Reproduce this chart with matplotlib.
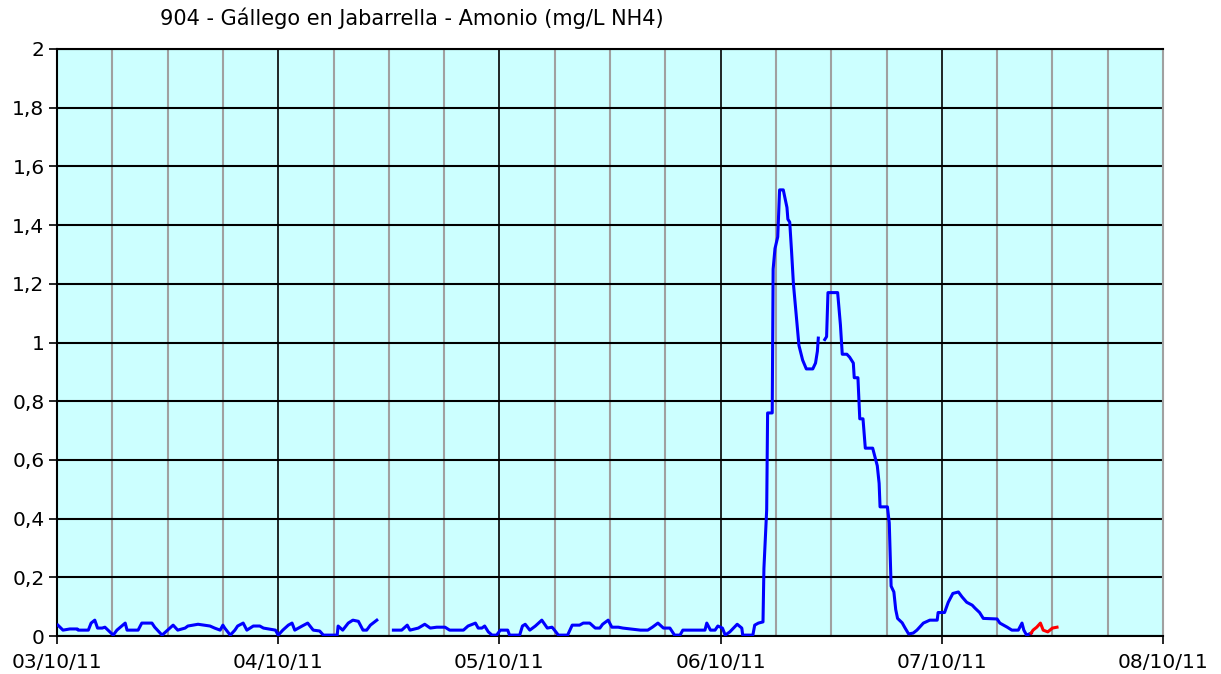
import numpy as np
import matplotlib
matplotlib.use("Agg")
import matplotlib.pyplot as plt
from matplotlib.ticker import MultipleLocator

# Horas desde el 03/10/11 00:00 y concentración de amonio (mg/L NH4)
horas = [
    0.1, 0.65, 1.4, 2.2, 2.3, 3.4, 3.7, 4.1, 4.4, 4.9, 5.2, 6.1, 6.5, 7.4, 7.6, 8.8,
    9.2, 10.3, 10.6, 11.4, 12.0, 12.6, 13.1, 13.9, 14.2, 15.3, 16.6, 17.1, 17.7, 18.0,
    18.2, 18.8, 19.3, 19.6, 20.2, 20.6, 21.3, 22.0, 22.4, 23.7, 24.0, 24.5, 25.1, 25.5,
    25.8, 26.6, 27.2, 27.8, 28.5, 28.9, 30.4, 30.5, 31.0, 31.6, 32.1, 32.7, 33.2, 33.6,
    34.0, 34.7,
    35.5,
    36.5, 37.4, 38.0, 38.3, 39.2, 39.9, 40.5, 41.2, 42.1, 42.6, 44.1, 44.6, 45.4, 45.7,
    46.1, 46.4, 46.8, 47.2, 47.7, 48.1, 48.9, 49.1, 50.2, 50.5, 50.8, 51.3, 51.9, 52.6,
    53.2, 53.7, 53.8, 54.4, 55.4, 55.9, 56.7, 57.1, 57.8, 58.4, 58.9, 59.2, 59.8, 60.2,
    60.9, 61.4, 62.2, 63.3, 64.1, 64.6, 65.2, 65.8, 66.5, 67.0, 67.6, 67.9, 69.4, 70.3,
    70.5, 70.9, 71.4, 71.7, 72.2, 72.5, 73.0, 73.8, 74.3, 74.4, 75.5, 75.7, 76.1, 76.6,
    76.7, 77.0, 77.1, 77.6, 77.65, 77.7, 77.9, 78.2, 78.4, 78.8, 79.0, 79.2, 79.3, 79.5,
    79.7, 79.9, 80.1, 80.3, 80.5, 80.9, 81.3, 82.0, 82.3, 82.5, 82.6,
    83.0,
    83.3, 83.5, 83.65, 84.7, 85.0, 85.2, 85.7, 86.0, 86.4, 86.5, 86.9, 87.1, 87.45, 87.7,
    88.5, 89.0, 89.2, 89.3, 90.1, 90.3, 90.5, 90.8, 91.0, 91.2, 91.7, 92.0, 92.4, 92.9,
    93.3, 94.0, 94.7, 95.5, 95.6, 96.3, 96.7, 97.2, 97.8, 98.2, 98.7, 99.3, 99.6, 100.1,
    100.5, 102.0, 102.3, 103.1, 103.6, 104.3, 104.7, 104.9, 105.2, 105.7,
]
amonio = [
    0.037, 0.02, 0.024, 0.024, 0.02, 0.02, 0.044, 0.054, 0.027, 0.027, 0.03, 0.003, 0.02, 0.044, 0.02, 0.02,
    0.044, 0.044, 0.03, 0.003, 0.02, 0.037, 0.02, 0.027, 0.034, 0.04, 0.034, 0.027, 0.02, 0.037,
    0.027, 0.003, 0.02, 0.034, 0.044, 0.02, 0.034, 0.034, 0.027, 0.02, 0.003, 0.02, 0.037, 0.044,
    0.02, 0.034, 0.044, 0.02, 0.017, 0.003, 0.003, 0.034, 0.02, 0.044, 0.054, 0.05, 0.02, 0.02,
    0.037, 0.054,
    np.nan,
    0.02, 0.02, 0.037, 0.02, 0.027, 0.04, 0.027, 0.03, 0.03, 0.02, 0.02, 0.034, 0.044, 0.027,
    0.027, 0.034, 0.014, 0.003, 0.003, 0.02, 0.02, 0.003, 0.003, 0.034, 0.04, 0.02, 0.034, 0.054,
    0.027, 0.03, 0.027, 0.003, 0.003, 0.037, 0.037, 0.044, 0.044, 0.027, 0.027, 0.04, 0.054, 0.03,
    0.03, 0.027, 0.024, 0.02, 0.02, 0.03, 0.044, 0.027, 0.027, 0.003, 0.003, 0.02, 0.02, 0.02,
    0.044, 0.02, 0.02, 0.034, 0.027, 0.003, 0.014, 0.04, 0.027, 0.003, 0.003, 0.037, 0.044, 0.048,
    0.23, 0.43, 0.76, 0.76, 1.0, 1.25, 1.32, 1.36, 1.52, 1.52, 1.49, 1.46, 1.42, 1.41,
    1.31, 1.2, 1.13, 1.06, 0.99, 0.94, 0.91, 0.91, 0.93, 0.97, 1.015,
    np.nan,
    1.01, 1.02, 1.17, 1.17, 1.06, 0.96, 0.96, 0.95, 0.93, 0.88, 0.88, 0.74, 0.74, 0.64,
    0.64, 0.58, 0.52, 0.44, 0.44, 0.385, 0.17, 0.15, 0.09, 0.06, 0.045, 0.028, 0.007, 0.01,
    0.02, 0.044, 0.054, 0.054, 0.08, 0.08, 0.115, 0.145, 0.15, 0.133, 0.115, 0.105, 0.095, 0.08,
    0.06, 0.058, 0.044, 0.03, 0.02, 0.02, 0.044, 0.02, 0.003, 0.01,
]

# Datos provisionales (tramo en rojo)
horas_prov = [105.7, 105.9, 106.3, 106.7, 107.0, 107.5, 108.0, 108.5]
amonio_prov = [0.01, 0.02, 0.03, 0.044, 0.02, 0.014, 0.027, 0.03]

fechas = ["03/10/11", "04/10/11", "05/10/11", "06/10/11", "07/10/11", "08/10/11"]
valores_y = [0, 0.2, 0.4, 0.6, 0.8, 1, 1.2, 1.4, 1.6, 1.8, 2]
etiquetas_y = ["0", "0,2", "0,4", "0,6", "0,8", "1", "1,2", "1,4", "1,6", "1,8", "2"]

fig = plt.figure(figsize=(12.21, 6.74), dpi=100)
ax = fig.add_axes([57 / 1221, 1 - 636 / 674, 1106 / 1221, 587 / 674])
ax.set_facecolor("#CCFFFF")

ax.plot(horas, amonio, color="#0000FF", linewidth=2.2, zorder=3)
ax.plot(horas_prov, amonio_prov, color="#FF0000", linewidth=2.2, zorder=3)

ax.set_xlim(0, 120)
ax.set_ylim(0, 2)
ax.set_xticks(np.arange(0, 121, 24))
ax.set_xticklabels(fechas)
ax.xaxis.set_minor_locator(MultipleLocator(6))
ax.set_yticks(valores_y)
ax.set_yticklabels(etiquetas_y)

ax.set_axisbelow(True)
ax.grid(which="minor", axis="x", color="#A0A0A0", linewidth=1.5)
ax.grid(which="major", axis="x", color="black", linewidth=1.2)
ax.grid(which="major", axis="y", color="black", linewidth=1.5)

ax.tick_params(axis="both", which="major", labelsize=14.5, length=6, width=1.2,
               colors="black", direction="out")
ax.tick_params(axis="x", which="minor", length=0)
ax.tick_params(axis="x", pad=6)
ax.tick_params(axis="y", pad=3)
for lado in ["left", "bottom", "top", "right"]:
    ax.spines[lado].set_linewidth(1.5)
    ax.spines[lado].set_color("black")
ax.spines["right"].set_color("#A0A0A0")

fig.text(160 / 1221, 1 - 18 / 674, "904 - Gállego en Jabarrella - Amonio (mg/L NH4)",
         fontsize=15, va="center", ha="left", color="black")

fig.savefig("out.png", dpi=100, facecolor="white")
